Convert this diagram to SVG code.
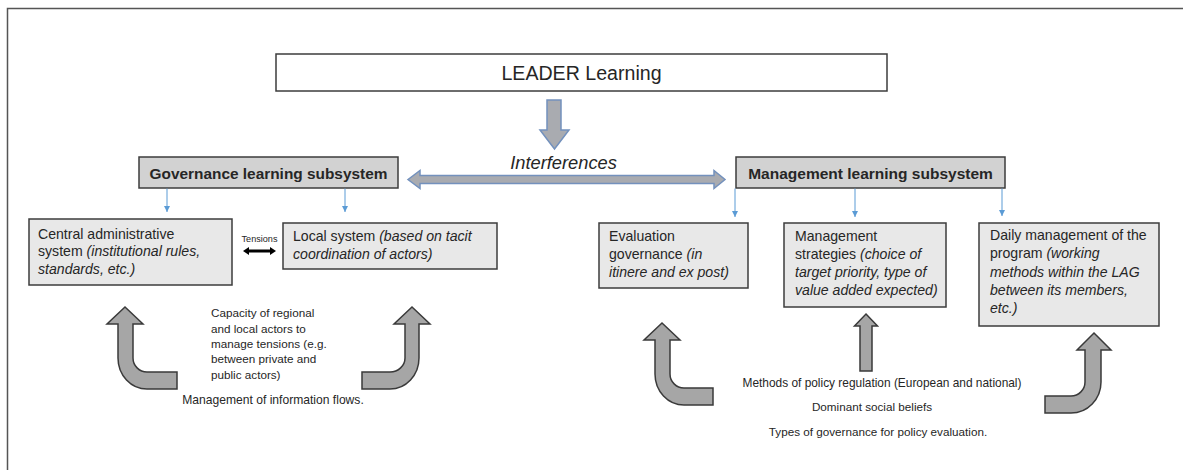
<svg xmlns="http://www.w3.org/2000/svg" width="1183" height="470" viewBox="0 0 1183 470">
<style>
text { font-family: "Liberation Sans", Arial, sans-serif; fill: #262626; }
.box { fill: #e8e8e8; stroke: #3c3c3c; stroke-width: 1.5; }
.hdr { fill: #d2d2d2; stroke: #3c3c3c; stroke-width: 1.5; }
.bt { font-size: 14.1px; }
.it { font-style: italic; }
.sm { font-size: 11.7px; }
.blue { stroke: #5b9bd5; stroke-width: 1; fill: none; }
.bigarrow { fill: #a6a6a6; stroke: #3a3a3a; stroke-width: 1.5; stroke-linejoin: miter; }
.sarrow { fill: #a9abb0; stroke: #7391bd; stroke-width: 1.5; }
</style>
<defs>
<marker id="bh" viewBox="0 0 10 10" refX="10" refY="5" markerWidth="6" markerHeight="6" markerUnits="userSpaceOnUse" orient="auto"><path d="M0,0 L10,5 L0,10 z" fill="#5b9bd5"/></marker>
</defs>
<rect width="1183" height="470" fill="#ffffff"/>
<path d="M7.5,470 V8.5 H1183" fill="none" stroke="#555555" stroke-width="1.5"/>

<g id="leader">
<rect x="276" y="54" width="611" height="37" fill="#ffffff" stroke="#3c3c3c" stroke-width="1.5"/>
<text x="581.5" y="80" font-size="19.6" text-anchor="middle">LEADER Learning</text>
</g>

<g id="governance">
<rect class="hdr" x="139" y="157" width="259" height="31"/>
<text x="268.5" y="178.5" font-size="15.4" font-weight="bold" text-anchor="middle">Governance learning subsystem</text>
</g>

<g id="management">
<rect class="hdr" x="736" y="157" width="269" height="31"/>
<text x="870.5" y="178.5" font-size="15.5" font-weight="bold" text-anchor="middle">Management learning subsystem</text>
</g>

<g id="interferences-label">
<text x="563.5" y="169" font-size="18.3" font-style="italic" text-anchor="middle">Interferences</text>
</g>

<g id="central">
<rect class="box" x="29" y="219" width="203" height="66"/>
<text class="bt" x="38" y="238.5">Central administrative</text>
<text class="bt" x="38" y="256">system <tspan class="it">(institutional rules,</tspan></text>
<text class="bt it" x="38" y="273.5">standards, etc.)</text>
</g>

<g id="local">
<rect class="box" x="283" y="223" width="214" height="46"/>
<text class="bt" x="293" y="241">Local system <tspan class="it">(based on tacit</tspan></text>
<text class="bt it" x="293" y="259">coordination of actors)</text>
</g>

<g id="tensions-label">
<text x="259.5" y="242" font-size="9.1" text-anchor="middle">Tensions</text>
</g>

<g id="evaluation">
<rect class="box" x="599" y="223" width="149" height="65"/>
<text class="bt" x="609" y="241">Evaluation</text>
<text class="bt" x="609" y="259">governance <tspan class="it">(in</tspan></text>
<text class="bt it" x="609" y="277">itinere and ex post)</text>
</g>

<g id="strategies">
<rect class="box" x="784" y="223" width="162" height="84"/>
<text class="bt" x="795" y="241">Management</text>
<text class="bt" x="795" y="259">strategies <tspan class="it">(choice of</tspan></text>
<text class="bt it" x="795" y="277">target priority, type of</text>
<text class="bt it" x="795" y="295">value added expected)</text>
</g>

<g id="daily">
<rect class="box" x="979" y="223" width="180" height="103"/>
<text class="bt" x="990" y="240">Daily management of the</text>
<text class="bt" x="990" y="258">program <tspan class="it">(working</tspan></text>
<text class="bt it" x="990" y="276.5">methods within the LAG</text>
<text class="bt it" x="990" y="295">between its members,</text>
<text class="bt it" x="990" y="313">etc.)</text>
</g>

<g id="capacity-text">
<text class="sm" x="211" y="317" font-size="11.5">Capacity of regional</text>
<text class="sm" x="211" y="333" font-size="11.5">and local actors to</text>
<text class="sm" x="211" y="348" font-size="11.5">manage tensions (e.g.</text>
<text class="sm" x="211" y="363" font-size="11.5">between private and</text>
<text class="sm" x="211" y="379" font-size="11.5">public actors)</text>
<text x="273" y="404" font-size="12.1" text-anchor="middle">Management of information flows.</text>
</g>

<g id="factors-text">
<text x="882" y="387" font-size="11.9" text-anchor="middle">Methods of policy regulation (European and national)</text>
<text x="872" y="411" font-size="11.7" text-anchor="middle">Dominant social beliefs</text>
<text x="878" y="436" font-size="11.7" text-anchor="middle">Types of governance for policy evaluation.</text>
</g>

<g id="connectors">
<path class="sarrow" d="M547,100 L561,100 L561,130 L569,130 L554.5,149 L540,130 L547,130 Z"/>
<path class="sarrow" d="M408,179.5 L420,170.5 L420,175.5 L714,175.5 L714,170.5 L725,179.5 L714,188.5 L714,183.5 L420,183.5 L420,188.5 Z"/>
<line class="blue" x1="167" y1="188.5" x2="167" y2="212" marker-end="url(#bh)"/>
<line class="blue" x1="345" y1="188.5" x2="345" y2="212" marker-end="url(#bh)"/>
<line class="blue" x1="735" y1="188.5" x2="735" y2="217" marker-end="url(#bh)"/>
<line class="blue" x1="855" y1="188.5" x2="855" y2="217" marker-end="url(#bh)"/>
<line class="blue" x1="1002" y1="188.5" x2="1002" y2="216" marker-end="url(#bh)"/>
<path d="M243,251 L249,247 L249,249.6 L270,249.6 L270,247 L276,251 L270,255 L270,252.4 L249,252.4 L249,255 Z" fill="#000000"/>
<path class="bigarrow" d="M125,307 L143,324 L133,324 L133,358 A14,14 0 0 0 147,372 L177,372 L177,389 L147,389 A29,31 0 0 1 118,358 L118,324 L107,324 Z"/>
<path class="bigarrow" d="M412,307 L430,324 L419,324 L419,358 A29,31 0 0 1 390,389 L362,389 L362,372 L390,372 A15,14 0 0 0 405,358 L405,324 L394,324 Z"/>
<path class="bigarrow" d="M662,323 L680,340 L670,340 L670,374 A14,14 0 0 0 684,388 L713,388 L713,405 L684,405 A29,31 0 0 1 655,374 L655,340 L644,340 Z"/>
<path class="bigarrow" d="M866,314 L877.5,326 L872,326 L872,371 L860,371 L860,326 L854.5,326 Z"/>
<path class="bigarrow" d="M1094,333 L1111,350 L1101,350 L1101,382 A30,31 0 0 1 1071,413 L1045,413 L1045,396 L1071,396 A14,14 0 0 0 1085,382 L1085,350 L1077,350 Z"/>
</g>
</svg>
